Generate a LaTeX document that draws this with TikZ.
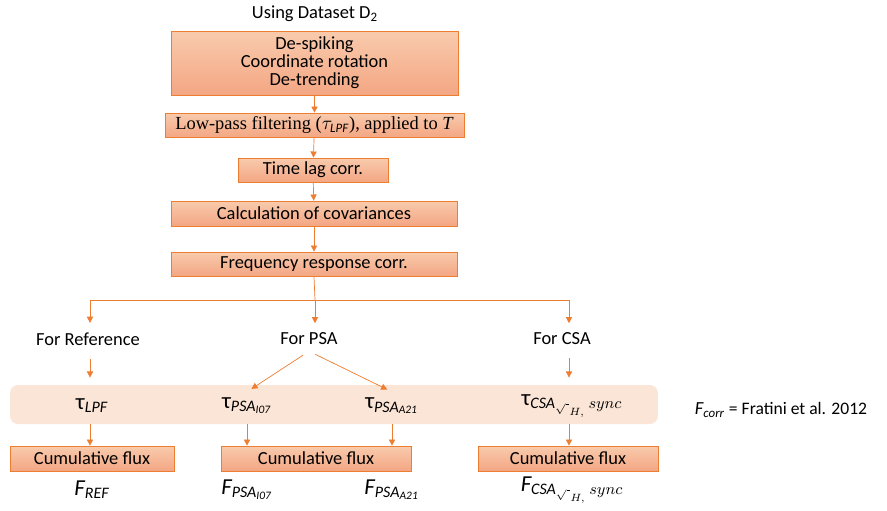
\documentclass[tikz,border=0pt]{standalone}
\usepackage{fontspec}
\usepackage{amsmath}
\setmainfont{Carlito}
\newfontfamily\timesfont{Liberation Serif}
\usetikzlibrary{arrows.meta}
\definecolor{boxedge}{HTML}{ED7D31}
\definecolor{boxtop}{HTML}{F8CBAD}
\definecolor{boxbot}{HTML}{F4A683}
\definecolor{bandfill}{HTML}{FBE5D6}
\newcommand{\tauC}{\textrm{τ}}
\begin{document}
\begin{tikzpicture}[x=0.02cm, y=-0.02cm,
	font=\fontsize{10.5}{11.5}\selectfont,
	procbox/.style={draw=boxedge, top color=boxtop, bottom color=boxbot, inner sep=0pt, align=center},
	bandbox/.style={fill=bandfill, rounded corners=0.16cm, inner sep=0pt},
	symb/.style={font=\fontsize{13}{14}\selectfont},
	flow/.style={boxedge, -{Triangle[length=3.5pt,width=3.5pt]}},
	plain/.style={boxedge}]
	        \useasboundingbox (0, 0) rectangle (887, 511);
	        \node at (315, 14) (D) {Using Dataset D\textsubscript{2}};
	        \node [procbox, minimum width=5.74cm, minimum height=1.28cm, font=\fontsize{10.5}{10.2}\selectfont] at (314.5, 63) (P0) {De-spiking\\Coordinate rotation\\De-trending};
	        \node [procbox, minimum width=5.98cm, minimum height=0.48cm, font=\timesfont\fontsize{10.5}{11}\selectfont] at (314.5, 125) (P1) {Low-pass filtering ($\tau_{\textrm{\itshape LPF}}$), applied to \textit{T}};
	        \node [procbox, minimum width=3.0cm, minimum height=0.48cm] at (313, 170) (P2) {Time lag corr.};
	        \node [procbox, minimum width=5.72cm, minimum height=0.5cm] at (314, 213.5) (P3) {Calculation of covariances};
	        \node [procbox, minimum width=5.72cm, minimum height=0.48cm] at (314, 264) (P4) {Frequency response corr.};
	        \draw [flow] (P0) -- (P1);
	        \draw [flow] (P1) -- (P2);
	        \draw [flow] (P2) -- (P3);
	        \draw [flow] (P3) -- (P4);
	        \coordinate (J0) at (315, 300);
	        \coordinate (J1) at (90, 300);
	        \coordinate (J2) at (569, 300);
	        \node at (88, 339) (B0) {For Reference};
	        \node at (309, 339) (B1) {For PSA};
	        \node at (562, 339) (B2) {For CSA};
	        \draw [plain] (P4.south) -- (J0);
	        \draw [plain] (J1) -- (J2);
	        \draw [flow, shorten >=2pt] (J1) -- (J1 |- B0.north);
	        \draw [flow, shorten >=2pt] (J0) -- (J0 |- B1.north);
	        \draw [flow, shorten >=2pt] (J2) -- (J2 |- B2.north);
	        \node [bandbox, minimum width=12.96cm, minimum height=0.78cm] at (334, 404.5) (Bd) {};
	        \node [symb] at (92, 406) (T0) {$\tauC_{\textit{LPF}}$};
	        \node [symb] at (247, 406) (T1) {$\tauC_{\textit{PSA}_{\textit{I07}}}$};
	        \node [symb] at (392, 406) (T2) {$\tauC_{\textit{PSA}_{\textit{A21}}}$};
	        \node [symb] at (572, 406) (T3) {$\tauC_{\textit{CSA}_{\sqrt{\;}_{H,}}\,sync}$};
	        \draw [flow, shorten <=4pt, shorten >=4pt] (J1 |- B0.south) -- (J1 |- Bd.north);
	        \draw [flow, shorten <=4pt, shorten >=3pt] (B1.south) -- (T1.north);
	        \draw [flow, shorten <=4pt, shorten >=3pt] (B1.south) -- (T2.north);
	        \draw [flow, shorten <=4pt, shorten >=4pt] (J2 |- B2.south) -- (J2 |- Bd.north);
	        \node [procbox, minimum width=3.28cm, minimum height=0.5cm] at (92, 458.5) (F0) {Cumulative flux};
	        \node [procbox, minimum width=3.8cm, minimum height=0.5cm] at (316, 458.5) (F1) {Cumulative flux};
	        \node [procbox, minimum width=3.6cm, minimum height=0.5cm] at (568, 458.5) (F2) {Cumulative flux};
	        \draw [flow] (J1 |- Bd.south) -- (J1 |- F0.north);
	        \draw [flow] (T1 |- Bd.south) -- (T1 |- F1.north);
	        \draw [flow] (T2 |- Bd.south) -- (T2 |- F1.north);
	        \draw [flow] (J2 |- Bd.south) -- (J2 |- F2.north);
	        \node [symb] at (92, 490) (L0) {$\textit{F}_{\textit{REF}}$};
	        \node [symb] at (247, 490) (L1) {$\textit{F}_{\textit{PSA}_{\textit{I07}}}$};
	        \node [symb] at (392, 490) (L2) {$\textit{F}_{\textit{PSA}_{\textit{A21}}}$};
	        \node [symb] at (572, 490) (L3) {$\textit{F}_{\textit{CSA}_{\sqrt{\;}_{H,}}\,sync}$};
	        \node [font=\fontsize{10}{11}\selectfont] at (781, 410) (N) {{\fontsize{10.5}{11}\selectfont$\textit{F}_{\textit{corr}}$} = Fratini et al. 2012};
        \end{tikzpicture}
\end{document}
